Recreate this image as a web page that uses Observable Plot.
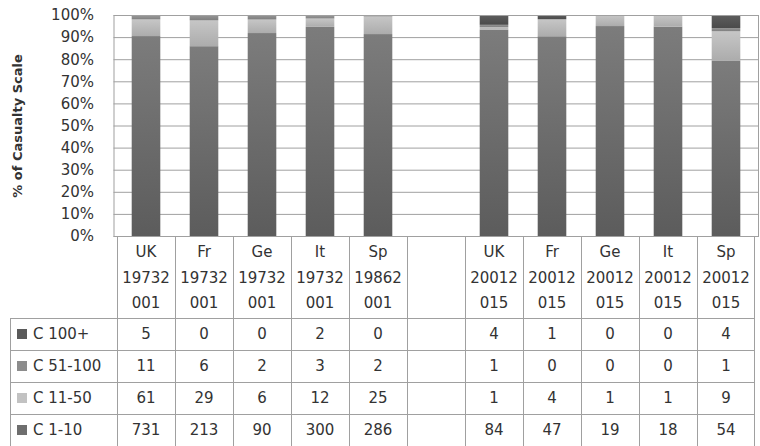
<!DOCTYPE html>
<html>
<head>
<meta charset="utf-8">
<script src="https://cdn.jsdelivr.net/npm/d3@7"></script>
<script src="https://cdn.jsdelivr.net/npm/@observablehq/plot@0.6"></script>
<style>
  html, body { margin: 0; padding: 0; background: #fff; }
  #wrap { position: relative; width: 760px; height: 446px; overflow: hidden; font-family: "DejaVu Sans", sans-serif; color: #333; }
  #wrap svg { position: absolute; left: 0; top: 0; }
  .ln { position: absolute; background: #a0a0a0; }
  .cell { position: absolute; text-align: center; font-size: 15px; white-space: nowrap; }
  .hdr { line-height: 25.5px; }
  .sw { position: absolute; width: 10px; height: 10px; }
  .lab { position: absolute; font-size: 15px; white-space: nowrap; }
</style>
</head>
<body>
<div id="wrap"></div>
<script>
// ---- data ----
const categories = ["UK 19732001", "Fr 19732001", "Ge 19732001", "It 19732001", "Sp 19862001", "",
                    "UK 20012015", "Fr 20012015", "Ge 20012015", "It 20012015", "Sp 20012015"];
const series = ["C 100+", "C 51-100", "C 11-50", "C 1-10"];           // table order
const c100  = [5, 0, 0, 2, 0, null, 4, 1, 0, 0, 4];
const c51   = [11, 6, 2, 3, 2, null, 1, 0, 0, 0, 1];
const c11   = [61, 29, 6, 12, 25, null, 1, 4, 1, 1, 9];
const c1    = [731, 213, 90, 300, 286, null, 84, 47, 19, 18, 54];
const yTicks = [0, 0.1, 0.2, 0.3, 0.4, 0.5, 0.6, 0.7, 0.8, 0.9, 1];
const yLabel = "% of Casualty Scale";

// styles
const gradStops = {
  "C 100+":   ["#5e5e5e", "#4a4a4a"],
  "C 51-100": ["#969696", "#7e7e7e"],
  "C 11-50":  ["#c6c6c6", "#acacac"],
  "C 1-10":   ["#7c7c7c", "#5c5c5c"]
};
const swatch = {"C 100+": "#5a5a5a", "C 51-100": "#8c8c8c", "C 11-50": "#c2c2c2", "C 1-10": "#6e6e6e"};

const valuesBySeries = {"C 100+": c100, "C 51-100": c51, "C 11-50": c11, "C 1-10": c1};
const stackOrder = ["C 1-10", "C 11-50", "C 51-100", "C 100+"];
const rows = [];
for (const s of stackOrder) {
  valuesBySeries[s].forEach((v, i) => { if (v != null) rows.push({cat: categories[i], series: s, value: v}); });
}

const gradId = s => "g" + series.indexOf(s);

const chart = Plot.plot({
  width: 760, height: 446,
  marginTop: 15, marginBottom: 210, marginLeft: 113.5, marginRight: 2,
  x: {domain: categories, padding: 0, axis: null},
  y: {domain: [0, 1], axis: null},
  color: {domain: series, range: series.map(s => `url(#${gradId(s)})`)},
  style: {fontFamily: "DejaVu Sans", fontSize: "15px", color: "#333", background: "transparent"},
  marks: [
    Plot.gridY(yTicks, {stroke: "#a0a0a0", strokeOpacity: 1}),
    Plot.barY(rows, Plot.stackY({offset: "normalize", x: "cat", y: "value", z: "series", fill: "series",
      insetLeft: 14.7, insetRight: 14.7})),
    Plot.frame({stroke: "#a0a0a0"}),
    Plot.axisY({ticks: yTicks, tickFormat: d3.format(".0%"), tickSize: 0, tickPadding: 20, fontSize: 15, label: null}),
    Plot.text([yLabel], {frameAnchor: "left", textAnchor: "middle", rotate: -90, dx: -96,
      fontWeight: "bold", fontSize: 13, fill: "#333"})
  ]
});

// gradients
const defs = d3.select(chart).insert("defs", ":first-child");
for (const s of series) {
  const g = defs.append("linearGradient").attr("id", gradId(s)).attr("x1", 0).attr("y1", 0).attr("x2", 0).attr("y2", 1);
  g.append("stop").attr("offset", "0%").attr("stop-color", gradStops[s][0]);
  g.append("stop").attr("offset", "100%").attr("stop-color", gradStops[s][1]);
}

const wrap = document.getElementById("wrap");
wrap.appendChild(chart);

// ---- data table under the chart, columns from the plot's x scale ----
const xs = chart.scale("x");
const bw = xs.bandwidth;
const tableTop = 236, headerH = 82, rowH = 32, tableLeft = 10;
const rightEdge = xs.apply(categories[categories.length - 1]) + bw;
const tableBottom = tableTop + headerH + rowH * series.length;

function line(x, y, w, h) {
  const d = document.createElement("div");
  d.className = "ln";
  Object.assign(d.style, {left: x + "px", top: y + "px", width: w + "px", height: h + "px"});
  wrap.appendChild(d);
}
// vertical lines
categories.forEach(c => line(Math.floor(xs.apply(c)), tableTop, 1, tableBottom - tableTop));
line(Math.floor(rightEdge) - 1, tableTop, 1, tableBottom - tableTop);
line(tableLeft, tableTop + headerH, 1, rowH * series.length);
// horizontal lines
for (let r = 0; r < series.length; r++) {
  line(tableLeft, tableTop + headerH + r * rowH, Math.floor(rightEdge) - tableLeft, 1);
}

// header
categories.forEach(c => {
  if (!c) return;
  const [name, years] = c.split(" ");
  const d = document.createElement("div");
  d.className = "cell hdr";
  Object.assign(d.style, {left: xs.apply(c) + "px", top: (tableTop + 4) + "px", width: bw + "px"});
  d.innerHTML = [name, years.slice(0, 5), years.slice(5)].join("<br>");
  wrap.appendChild(d);
});

// body rows
series.forEach((s, r) => {
  const top = tableTop + headerH + r * rowH;
  const sw = document.createElement("div");
  sw.className = "sw";
  Object.assign(sw.style, {left: "17px", top: (top + 11) + "px", background: swatch[s]});
  wrap.appendChild(sw);
  const lab = document.createElement("div");
  lab.className = "lab";
  Object.assign(lab.style, {left: "33px", top: top + "px", lineHeight: rowH + "px"});
  lab.textContent = s;
  wrap.appendChild(lab);
  valuesBySeries[s].forEach((v, i) => {
    if (v == null) return;
    const d = document.createElement("div");
    d.className = "cell";
    Object.assign(d.style, {left: xs.apply(categories[i]) + "px", top: top + "px", width: bw + "px", lineHeight: rowH + "px"});
    d.textContent = v;
    wrap.appendChild(d);
  });
});
</script>
</body>
</html>
